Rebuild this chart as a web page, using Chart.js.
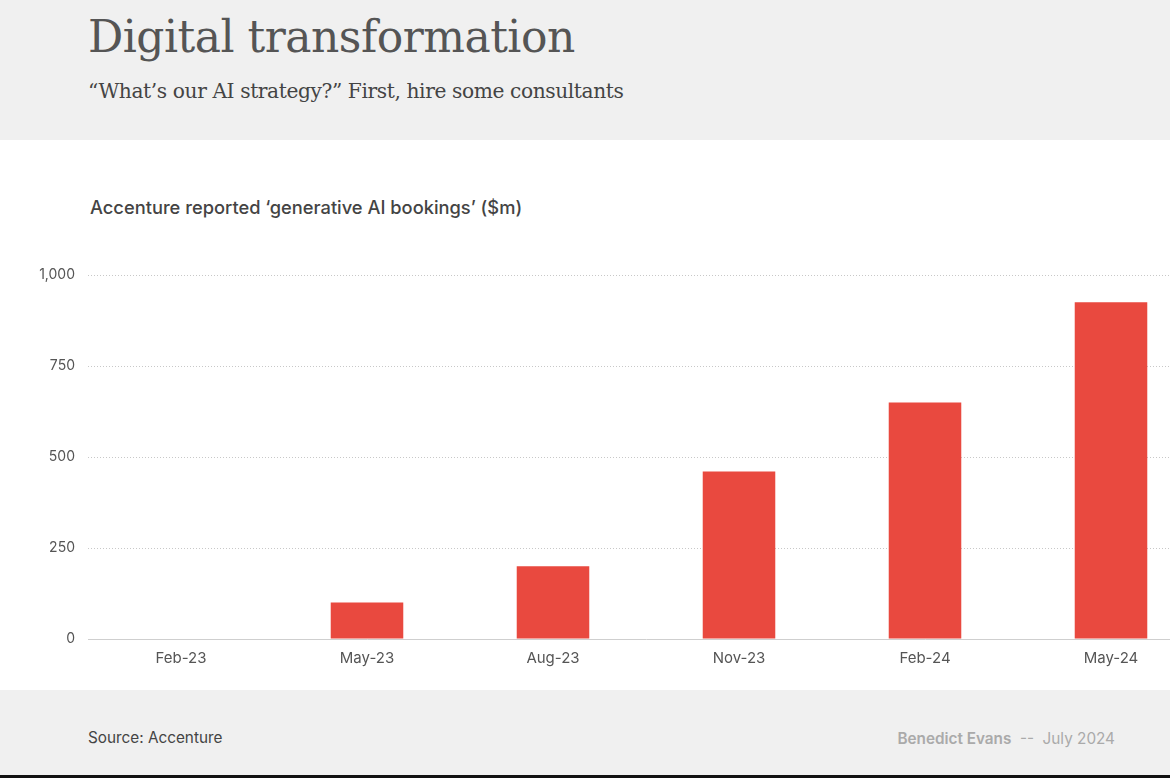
<!DOCTYPE html>
<html>
<head>
<meta charset="utf-8">
<script src="https://cdn.jsdelivr.net/npm/chart.js@4"></script>
<style>
  html, body { margin: 0; padding: 0; width: 1170px; height: 778px; overflow: hidden; background: #fff; }
  .header { position: absolute; left: 0; top: 0; width: 1170px; height: 140px; background: #f0f0f0; }
  .title { position: absolute; left: 88px; top: 11px; font-family: "DejaVu Serif", serif; font-size: 44px; color: #555; letter-spacing: -0.5px; }
  .subtitle { position: absolute; left: 88px; top: 79px; font-family: "DejaVu Serif", serif; font-size: 20.2px; color: #444; letter-spacing: -0.4px; }
  .chartTitle { position: absolute; left: 90px; top: 196px; font-family: Inter, sans-serif; font-size: 18.3px; font-weight: 500; color: #444; }
  .wrap { position: absolute; left: 0; top: 240px; width: 1204px; height: 450px; }
  .footer { position: absolute; left: 0; top: 690px; width: 1170px; height: 85px; background: #f0f0f0; }
  .bottomLine { position: absolute; left: 0; top: 775px; width: 1170px; height: 3px; background: #111; }
  .source { position: absolute; left: 88px; top: 38px; font-family: Inter, sans-serif; font-size: 15.3px; color: #444; }
  .credit { position: absolute; right: 55px; top: 39px; font-family: Inter, sans-serif; font-size: 15.3px; color: #aaa; }
  .credit b { font-weight: 600; }
</style>
</head>
<body>
<div class="header">
  <div class="title">Digital transformation</div>
  <div class="subtitle">“What’s our AI strategy?” First, hire some consultants</div>
</div>
<div class="chartTitle">Accenture reported ‘generative AI bookings’ ($m)</div>
<div class="wrap"><canvas id="bookingsChart"></canvas></div>
<div class="footer">
  <div class="source">Source: Accenture</div>
  <div class="credit"><b>Benedict Evans</b> &nbsp;-- &nbsp;July 2024</div>
</div>
<div class="bottomLine"></div>
<script>
const quarters = ["Feb-23", "May-23", "Aug-23", "Nov-23", "Feb-24", "May-24"];
const bookings = [0, 100, 200, 460, 650, 925];
const yTicks = [0, 250, 500, 750, 1000];

document.addEventListener('DOMContentLoaded', function () {
    const tickFont = { family: "Inter, sans-serif", size: 14 };
    const xTickFont = { family: "Inter, sans-serif", size: 15 };

    const bookingsChart = new Chart(document.getElementById("bookingsChart"), {
        type: "bar",
        data: {
            labels: quarters,
            datasets: [{
                label: "Generative AI bookings ($m)",
                backgroundColor: "#e9493f",
                data: bookings,
                barPercentage: 0.39,
                categoryPercentage: 1.0,
            }],
        },
        options: {
            responsive: true,
            maintainAspectRatio: false,
            animation: false,
            layout: { padding: { top: 35, left: 0, right: 0, bottom: 0 } },
            plugins: {
                legend: { display: false },
                tooltip: { enabled: false },
            },
            scales: {
                x: {
                    grid: { display: false, drawTicks: false },
                    border: { display: true, color: "#cfcfcf", width: 1 },
                    ticks: { color: "#555", font: xTickFont, padding: 10 },
                    afterFit: function (scale) { scale.height = 51; },
                },
                y: {
                    min: 0,
                    max: 1000,
                    afterBuildTicks: function (scale) {
                        scale.ticks = yTicks.map(v => ({ value: v }));
                    },
                    grid: {
                        drawTicks: false,
                        color: ctx => ctx.tick && ctx.tick.value === 0 ? "rgba(0,0,0,0)" : "#c8c8c8",
                        lineWidth: 1,
                    },
                    border: { display: false, dash: [1, 2] },
                    ticks: {
                        color: "#555",
                        font: tickFont,
                        padding: 13,
                        callback: v => v.toLocaleString("en-US"),
                    },
                    afterFit: function (scale) { scale.width = 88; },
                },
            },
        },
    });
});
</script>
</body>
</html>
